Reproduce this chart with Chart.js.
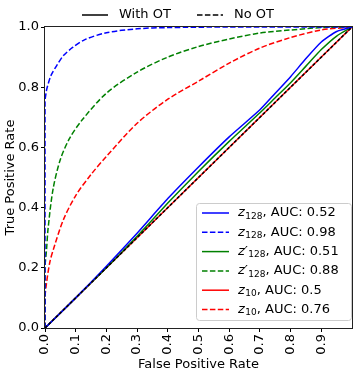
<!DOCTYPE html>
<html>
<head>
<meta charset="utf-8">
<script src="https://cdn.jsdelivr.net/npm/chart.js@4.4.1/dist/chart.umd.min.js"></script>
<style>
  html, body { margin: 0; padding: 0; background: #fff; }
  canvas { display: block; }
</style>
</head>
<body>
<canvas id="roc" width="357" height="374"></canvas>
<script>
// ROC curves: false positive rate -> true positive rate
const fprSolid = [0, 0.1, 0.2, 0.3, 0.4, 0.5, 0.6, 0.7, 0.75, 0.8, 0.85, 0.9, 0.95, 1];
const z128WithOT = [0, 0.1, 0.205, 0.315, 0.43, 0.535, 0.635, 0.725, 0.78, 0.835, 0.895, 0.95, 0.985, 1];
const zp128WithOT = [0, 0.1, 0.2, 0.305, 0.415, 0.52, 0.62, 0.715, 0.765, 0.815, 0.87, 0.925, 0.97, 1];
const fprZ10WithOT = [0, 0.5, 1];
const z10WithOT = [0, 0.5, 1];

const fprZ128NoOT = [0, 0, 0.005, 0.01, 0.02, 0.04, 0.06, 0.09, 0.13, 0.2, 0.3, 0.4, 0.6, 1];
const z128NoOT = [0, 0.75, 0.79, 0.81, 0.84, 0.875, 0.905, 0.932, 0.958, 0.981, 0.994, 0.998, 1, 1];

const fprZp128NoOT = [0, 0, 0.005, 0.01, 0.026, 0.05, 0.08, 0.12, 0.2, 0.3, 0.4, 0.5, 0.6, 0.7, 0.8, 0.9, 1];
const zp128NoOT = [0, 0.2, 0.26, 0.33, 0.46, 0.56, 0.63, 0.69, 0.78, 0.85, 0.9, 0.935, 0.96, 0.98, 0.99, 0.998, 1];

const fprZ10NoOT = [0, 0, 0.005, 0.016, 0.03, 0.06, 0.1, 0.15, 0.2, 0.3, 0.4, 0.5, 0.6, 0.7, 0.8, 0.9, 1];
const z10NoOT = [0, 0.1, 0.15, 0.22, 0.27, 0.36, 0.44, 0.51, 0.57, 0.68, 0.76, 0.82, 0.88, 0.93, 0.965, 0.99, 1];

const chanceX = [0, 1];
const chanceY = [0, 1];

const xTicks = [0, 0.1, 0.2, 0.3, 0.4, 0.5, 0.6, 0.7, 0.8, 0.9];
const yTicks = [0, 0.2, 0.4, 0.6, 0.8, 1.0];

const legendItems = [
  { color: 'blue', dash: [], sym: 'z', sub: '128', auc: '0.52' },
  { color: 'blue', dash: [5.5, 2.4], sym: 'z', sub: '128', auc: '0.98' },
  { color: 'green', dash: [], sym: 'z\u2032', sub: '128', auc: '0.51' },
  { color: 'green', dash: [5.5, 2.4], sym: 'z\u2032', sub: '128', auc: '0.88' },
  { color: 'red', dash: [], sym: 'z', sub: '10', auc: '0.5' },
  { color: 'red', dash: [5.5, 2.4], sym: 'z', sub: '10', auc: '0.76' }
];

const FONT = 'DejaVu Sans';
const DASH = [5.5, 2.4];

function pts(xs, ys) {
  return xs.map((x, i) => ({ x: x, y: ys[i] }));
}

function curve(xs, ys, color, dash, tension) {
  return {
    data: pts(xs, ys),
    borderColor: color,
    borderWidth: 1.5,
    borderDash: dash,
    pointRadius: 0,
    fill: false,
    showLine: true,
    tension: tension || 0
  };
}

const decorPlugin = {
  id: 'decor',
  afterDraw(chart) {
    const ctx = chart.ctx;
    const a = chart.chartArea;
    ctx.save();

    // legend box (bottom right)
    const bx = 196, by = 203, bw = 155, bh = 117;
    ctx.fillStyle = 'rgba(255,255,255,0.8)';
    ctx.strokeStyle = '#cccccc';
    ctx.lineWidth = 1;
    ctx.beginPath();
    ctx.roundRect(bx + 0.5, by + 0.5, bw, bh, 3);
    ctx.fill();
    ctx.stroke();

    legendItems.forEach((it, i) => {
      const y = 213 + i * 19.3;
      ctx.strokeStyle = it.color;
      ctx.lineWidth = 1.5;
      ctx.setLineDash(it.dash);
      ctx.beginPath();
      ctx.moveTo(202, y);
      ctx.lineTo(229, y);
      ctx.stroke();
      ctx.setLineDash([]);

      ctx.fillStyle = '#000';
      ctx.textBaseline = 'middle';
      ctx.textAlign = 'left';
      let x = 238;
      ctx.font = 'italic 13px "' + FONT + '"';
      ctx.fillText(it.sym, x, y);
      x += ctx.measureText(it.sym).width + 0.5;
      ctx.font = '9px "' + FONT + '"';
      ctx.fillText(it.sub, x, y + 3.5);
      x += ctx.measureText(it.sub).width;
      ctx.font = '13px "' + FONT + '"';
      ctx.fillText(', AUC: ' + it.auc, x, y);
    });

    // top legend
    ctx.strokeStyle = '#000';
    ctx.lineWidth = 1.5;
    ctx.beginPath();
    ctx.moveTo(82, 15);
    ctx.lineTo(108, 15);
    ctx.stroke();
    ctx.setLineDash(DASH);
    ctx.beginPath();
    ctx.moveTo(197, 15);
    ctx.lineTo(223, 15);
    ctx.stroke();
    ctx.setLineDash([]);
    ctx.fillStyle = '#000';
    ctx.font = '13px "' + FONT + '"';
    ctx.textBaseline = 'middle';
    ctx.fillText('With OT', 119, 15);
    ctx.fillText('No OT', 234, 15);

    // axes frame
    ctx.strokeStyle = '#222';
    ctx.lineWidth = 1;
    ctx.strokeRect(Math.round(a.left) - 0.5, Math.round(a.top) - 0.5,
      Math.round(a.right - a.left) + 1, Math.round(a.bottom - a.top) + 1);
    ctx.restore();
  }
};

const ctx = document.getElementById('roc');
new Chart(ctx, {
  type: 'scatter',
  data: {
    datasets: [
      curve(chanceX, chanceY, '#000', [3, 2]),
      curve(fprSolid, z128WithOT, 'blue', [], 0.2),
      curve(fprZ128NoOT, z128NoOT, 'blue', DASH, 0.3),
      curve(fprSolid, zp128WithOT, 'green', [], 0.2),
      curve(fprZp128NoOT, zp128NoOT, 'green', DASH, 0.3),
      curve(fprZ10WithOT, z10WithOT, 'red', []),
      curve(fprZ10NoOT, z10NoOT, 'red', DASH, 0.3)
    ]
  },
  options: {
    responsive: false,
    devicePixelRatio: 1,
    animation: false,
    layout: { padding: { left: 0, right: 5, top: 27, bottom: 0 } },
    plugins: {
      legend: { display: false },
      tooltip: { enabled: false }
    },
    scales: {
      x: {
        type: 'linear',
        min: 0,
        max: 1,
        afterBuildTicks: (s) => { s.ticks = xTicks.map(v => ({ value: v })); },
        afterFit: (s) => { s.height = 46; },
        grid: { drawOnChartArea: false, drawTicks: true, tickLength: 4, color: '#000' },
        border: { display: false },
        ticks: {
          minRotation: 90,
          maxRotation: 90,
          padding: 2,
          color: '#000',
          font: { family: FONT, size: 13 },
          callback: (v) => v.toFixed(1)
        },
        title: {
          display: true,
          text: 'False Positive Rate',
          color: '#000',
          font: { family: FONT, size: 13 },
          padding: { top: 0, bottom: 2 }
        }
      },
      y: {
        min: 0,
        max: 1,
        afterBuildTicks: (s) => { s.ticks = yTicks.map(v => ({ value: v })); },
        afterFit: (s) => { s.width = 45; },
        grid: { drawOnChartArea: false, drawTicks: true, tickLength: 4, color: '#000' },
        border: { display: false },
        ticks: {
          padding: 2,
          color: '#000',
          font: { family: FONT, size: 13 },
          callback: (v) => v.toFixed(1)
        },
        title: {
          display: true,
          text: 'True Positive Rate',
          color: '#000',
          font: { family: FONT, size: 13 },
          padding: { top: 3, bottom: 0 }
        }
      }
    }
  },
  plugins: [decorPlugin]
});
</script>
</body>
</html>
